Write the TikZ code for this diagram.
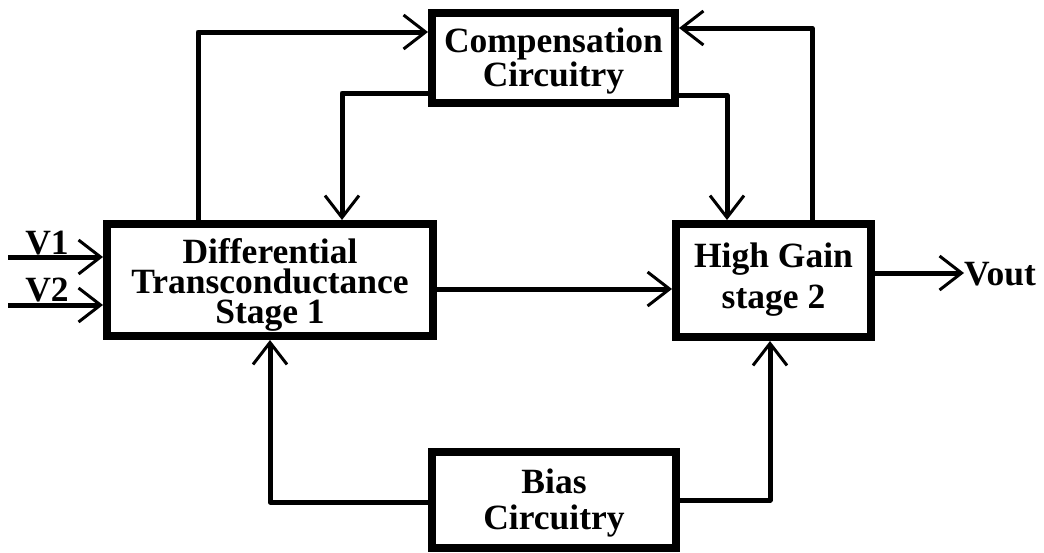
\documentclass[tikz,border=0pt]{standalone}
\usepackage{fontspec}
\setmainfont{Liberation Serif}
\usetikzlibrary{arrows.meta}
\begin{document}
\begin{tikzpicture}[x=1pt,y=-1pt,
  block/.style={draw, line width=8pt, rectangle, inner sep=0pt},
  txt/.style={inner sep=0pt, align=center,
    font=\fontsize{35.5}{30}\selectfont\bfseries},
  lbl/.style={inner sep=0pt, font=\fontsize{35.5}{30}\selectfont\bfseries},
  wire/.style={line width=5pt, line join=round},
  arr/.style={wire, -{Straight Barb[length=22pt,width=34pt,line width=3pt]}}]
  \useasboundingbox (0,0) rectangle (1044,552);

  % blocks
  \node[block, minimum width=326pt, minimum height=112pt] (diff) at (270,280) {};
  \node[block, minimum width=243pt, minimum height=90pt] (comp) at (553.5,58) {};
  \node[block, minimum width=195pt, minimum height=113pt] (hg) at (773.5,280.5) {};
  \node[block, minimum width=244pt, minimum height=96pt] (bias) at (554,500) {};

  % block captions
  \node[txt] (difft) at ([yshift=-5pt]diff.center)
    {Differential\\Transconductance\\Stage 1};
  \node[txt] (compt) at ([yshift=-3pt]comp.center) {Compensation\\Circuitry};
  \node[txt] (hgt) at ([yshift=1pt]hg.center) {High Gain\\[9pt]stage 2};
  \node[txt] (biast) at ([yshift=-3pt]bias.center) {Bias\\[6pt]Circuitry};

  % signal labels
  \node[lbl] (v1) at (47,243) {V1};
  \node[lbl] (v2) at (47,290) {V2};
  \node[lbl, anchor=west] (vout) at (964,274) {Vout};

  % routing points
  \coordinate (a1) at (198,32);
  \coordinate (b1) at (342,93);
  \coordinate (c1) at (727,95);
  \coordinate (d1) at (812,28);
  \coordinate (e1) at (0,289);
  \coordinate (f1) at (0,273);
  \coordinate (g1) at (270,502);
  \coordinate (h1) at (770,500);
  \coordinate (in1) at (8,257);
  \coordinate (in2) at (8,305);

  % inputs
  \draw[arr] (in1) -- (diff.west |- in1);
  \draw[arr] (in2) -- (diff.west |- in2);

  % compensation loops
  \draw[arr] (diff.north -| a1) |- (comp.west |- a1);
  \draw[arr] (comp.west |- b1) -| (diff.north -| b1);
  \draw[arr] (comp.east |- c1) -| (hg.north -| c1);
  \draw[arr] (hg.north -| d1) |- (comp.east |- d1);

  % forward path
  \draw[arr] (diff.east |- e1) -- (hg.west |- e1);
  \draw[arr] (hg.east |- f1) -- (vout.west |- f1);

  % bias feeds
  \draw[arr] (bias.west |- g1) -| (diff.south -| g1);
  \draw[arr] (bias.east |- h1) -| (hg.south -| h1);
\end{tikzpicture}
\end{document}
